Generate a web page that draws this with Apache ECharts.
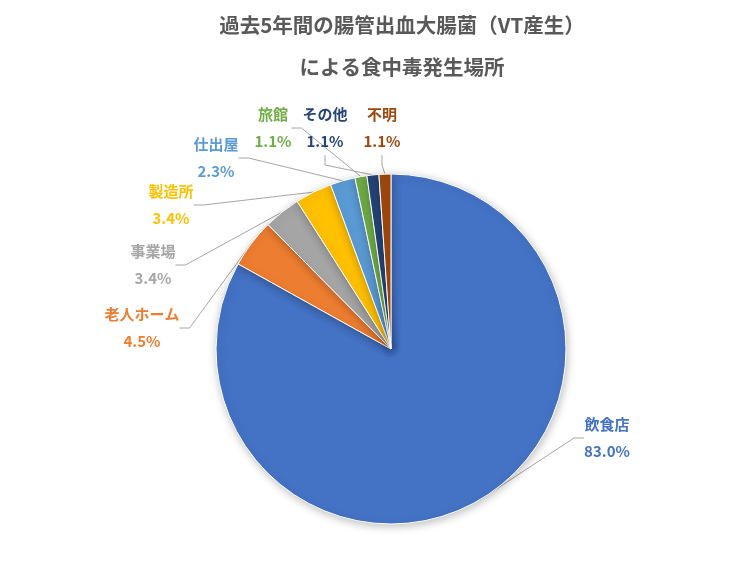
<!DOCTYPE html>
<html>
<head>
<meta charset="utf-8">
<script src="https://cdn.jsdelivr.net/npm/echarts@6/dist/echarts.min.js"></script>
<style>
    html, body { margin: 0; padding: 0; background: #fff; }
    #main { width: 756px; height: 567px; }
</style>
</head>
<body>
<div id="main"></div>
<script>
// 発生場所（%）
var places = ["飲食店", "老人ホーム", "事業場", "製造所", "仕出屋", "旅館", "その他", "不明"];
var percents = [83.0, 4.5, 3.4, 3.4, 2.3, 1.1, 1.1, 1.1];
var colors = ["#4472C4", "#ED7D31", "#A5A5A5", "#FFC000", "#5B9BD5", "#70AD47", "#264478", "#9E480E"];

// ラベル位置（中心）
var labelPos = [[607, 438], [142, 328], [153, 265], [171, 205], [216, 158], [273, 128], [325, 128], [382, 128]];

var chart = echarts.init(document.getElementById("main"));

var pieData = places.map(function (name, i) {
    return {
        name: name,
        value: percents[i],
        itemStyle: {color: colors[i]},
        label: {color: colors[i]}
    };
});

var option = {
    backgroundColor: "#fff",
    animation: false,
    title: {
        text: "過去5年間の腸管出血大腸菌（VT産生）\nによる食中毒発生場所",
        left: 397,
        textAlign: "center",
        top: -1,
        textStyle: {
            fontFamily: "Noto Sans CJK JP",
            fontSize: 20.5,
            fontWeight: "bold",
            color: "#595959",
            lineHeight: 42
        }
    },
    series: [{
        type: "pie",
        center: [391, 349],
        radius: 175,
        startAngle: 90,
        clockwise: true,
        data: pieData,
        itemStyle: {
            borderColor: "#fff",
            borderWidth: 1,
            shadowBlur: 8,
            shadowColor: "rgba(0,0,0,0.25)",
            shadowOffsetX: 1,
            shadowOffsetY: 2
        },
        label: {
            show: true,
            fontFamily: "Noto Sans CJK JP",
            fontSize: 15,
            fontWeight: "bold",
            lineHeight: 27,
            align: "center",
            formatter: function (p) {
                return p.name + "\n" + p.value.toFixed(1) + "%";
            }
        },
        labelLine: {
            show: true,
            length: 20,
            length2: 10,
            lineStyle: {color: "#A6A6A6", width: 1}
        },
        labelLayout: function (params) {
            var pos = labelPos[params.dataIndex];
            return {
                x: pos[0],
                y: pos[1],
                align: "center",
                verticalAlign: "middle"
            };
        }
    }]
};

chart.setOption(option);
</script>
</body>
</html>
